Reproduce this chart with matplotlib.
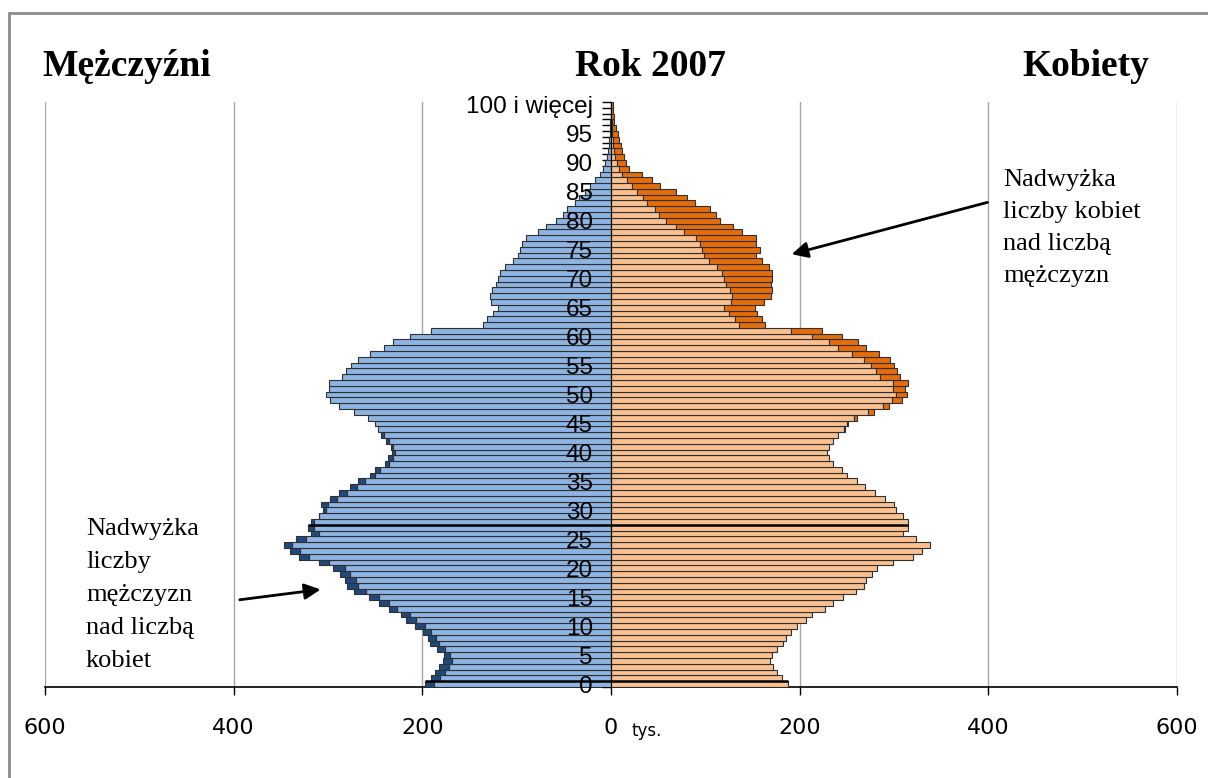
import numpy as np
import matplotlib
matplotlib.use("Agg")
import matplotlib.pyplot as plt
from matplotlib.patches import Rectangle
from matplotlib.transforms import offset_copy

# population in thousands, ages 0 .. 100+ (Poland, 2007)
ages = np.arange(0, 101)
men = [
    196.8, 190.5, 186.2, 182.0, 178.0, 177.4, 184.5, 191.5, 194.3, 199.3,
    208.0, 217.3, 223.0, 235.3, 246.0, 256.5, 272.8, 279.9, 282.0, 287.6,
    294.7, 309.5, 331.0, 340.6, 346.3, 334.0, 317.7, 321.6, 318.0, 310.0,
    305.3, 307.0, 297.5, 288.3, 276.3, 268.2, 255.8, 249.8, 239.2, 236.4,
    232.2, 233.2, 238.2, 243.5, 247.3, 250.5, 257.5, 272.0, 288.0, 298.0,
    302.5, 299.0, 299.0, 285.5, 281.0, 276.0, 268.0, 255.5, 240.5, 231.0,
    213.5, 190.5, 136.0, 131.0, 125.5, 120.0, 127.0, 128.5, 126.5, 121.5,
    120.0, 117.5, 112.0, 104.0, 98.5, 96.8, 94.5, 90.5, 77.5, 69.0,
    58.5, 51.0, 46.5, 38.0, 33.5, 28.0, 22.0, 16.5, 12.0, 8.0,
    6.0, 4.2, 3.2, 2.5, 1.8, 1.4, 1.0, 0.7, 0.5, 0.3,
    0.4,
]
women = [
    188.0, 181.0, 175.7, 171.8, 169.0, 170.4, 175.7, 182.4, 185.2, 190.8,
    197.2, 206.7, 213.4, 227.2, 235.3, 246.2, 259.6, 267.7, 270.2, 276.9,
    282.5, 298.8, 320.3, 329.8, 337.9, 322.8, 309.7, 315.0, 314.6, 309.7,
    301.6, 300.5, 290.7, 280.0, 269.5, 261.0, 250.0, 244.8, 235.3, 231.0,
    228.6, 231.0, 235.3, 240.6, 247.6, 250.8, 261.0, 278.7, 295.2, 308.3,
    313.6, 312.0, 314.6, 306.5, 303.4, 300.5, 296.0, 284.0, 270.5, 261.7,
    244.8, 224.0, 163.3, 160.5, 155.2, 152.4, 162.0, 170.0, 171.0, 170.0,
    171.2, 171.0, 167.5, 160.5, 153.4, 157.7, 153.4, 153.4, 139.0, 129.5,
    116.0, 110.8, 104.8, 88.9, 80.8, 68.8, 52.2, 43.7, 33.2, 19.4,
    15.5, 14.1, 11.6, 10.5, 8.5, 7.8, 5.3, 3.5, 2.8, 2.0,
    1.8,
]
label_ages = list(range(0, 101, 5))
age_labels = [str(a) if a < 100 else "100 i więcej" for a in label_ages]
x_ticks = [-600, -400, -200, 0, 200, 400, 600]

men = np.array(men)
women = np.array(women)
common = np.minimum(men, women)
men_extra = men - common
women_extra = women - common

W, H = 1208, 778
fig = plt.figure(figsize=(W / 100, H / 100), dpi=100)
ax = fig.add_axes([45 / W, 1 - 687 / H, (1177 - 45) / W, (687 - 102) / H])
ax.set_axisbelow(True)

edge = "#303030"
ax.barh(ages, -common, height=1, color="#8DB4E2", edgecolor=edge, lw=0.8, zorder=3)
m = men_extra > 0.05
ax.barh(ages[m], -men_extra[m], left=-common[m], height=1, color="#1F497D",
        edgecolor=edge, lw=0.8, zorder=3)
ax.barh(ages, common, height=1, color="#FAC090", edgecolor=edge, lw=0.8, zorder=3)
w = women_extra > 0.05
ax.barh(ages[w], women_extra[w], left=common[w], height=1, color="#E46C0A",
        edgecolor=edge, lw=0.8, zorder=3)

# thicker separators visible in the original
for yb in (0.5, 27.5):
    i = int(yb)
    ax.hlines(yb, -max(men[i], men[i + 1]), max(women[i], women[i + 1]),
              color="black", lw=1.8, zorder=4)

ax.set_xlim(-600, 600)
ax.set_ylim(-0.5, 100.5)

for xv in x_ticks:
    ax.axvline(xv, color="#A6A6A6", lw=1, zorder=0)

ax.spines["top"].set_visible(False)
ax.spines["right"].set_visible(False)
ax.spines["left"].set_position(("data", 0))
ax.spines["left"].set_zorder(5)
ax.spines["bottom"].set_linewidth(1.2)

ax.set_xticks(x_ticks)
ax.set_xticklabels([str(abs(v)) for v in x_ticks], fontsize=16,
                   family="DejaVu Sans")
ax.tick_params(axis="x", length=6, width=1, pad=16)

# age ticks: small marks at every age boundary, labels drawn over the bars
ax.set_yticks([])
ax.set_yticks(np.arange(-0.5, 101, 1), minor=True)
ax.tick_params(axis="y", which="minor", length=6.5, width=1)
lab_tr = offset_copy(ax.transData, fig=fig, x=-18, y=0, units="dots")
for a, s in zip(label_ages, age_labels):
    ax.text(0, a, s, transform=lab_tr, ha="right", va="center_baseline",
            fontsize=17.5, family="Liberation Sans", zorder=6)

def px(x, y):
    return x / W, 1 - y / H

serif = "Liberation Serif"
fig.text(*px(42, 76), "Mężczyźni", family=serif, weight="bold", fontsize=27,
         va="baseline", ha="left")
fig.text(*px(650, 76), "Rok 2007", family=serif, weight="bold", fontsize=27,
         va="baseline", ha="center")
fig.text(*px(1022, 76), "Kobiety", family=serif, weight="bold", fontsize=27,
         va="baseline", ha="left")

right_lines = ["Nadwyżka", "liczby kobiet", "nad liczbą", "mężczyzn"]
for k, s in enumerate(right_lines):
    fig.text(*px(1003, 186 + 32 * k), s, family=serif, fontsize=19,
             va="baseline", ha="left")
left_lines = ["Nadwyżka", "liczby", "mężczyzn", "nad liczbą", "kobiet"]
for k, s in enumerate(left_lines):
    fig.text(*px(86, 535 + 33 * k), s, family=serif, fontsize=19,
             va="baseline", ha="left")

fig.text(*px(632, 736), "tys.", family="DejaVu Sans", fontsize=12,
         va="baseline", ha="left")

arrow = dict(arrowstyle="-|>", color="black", lw=2, mutation_scale=24)
ax.annotate("", xy=(188.7, 74.1), xytext=(402, 83.3), arrowprops=arrow,
            annotation_clip=False)
ax.annotate("", xy=(-305, 16.4), xytext=(-396.5, 14.5), arrowprops=arrow,
            annotation_clip=False)

frame = Rectangle(px(9, 900), 2, (900 - 13) / H, transform=fig.transFigure,
                  fill=False, edgecolor="#8C8C8C", lw=2, clip_on=False)
fig.patches.append(frame)

fig.savefig("out.png", dpi=100)
